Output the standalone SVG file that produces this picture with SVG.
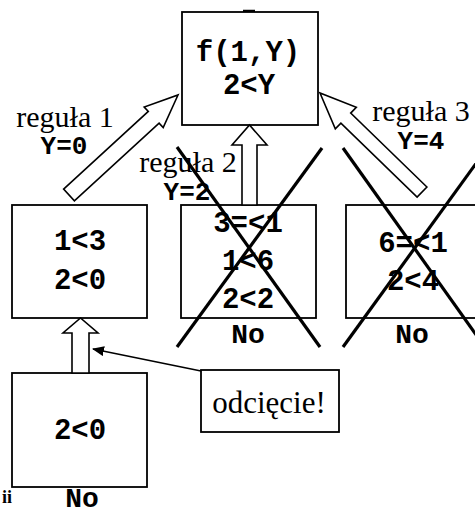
<svg xmlns="http://www.w3.org/2000/svg" width="475" height="514" viewBox="0 0 475 514">
<defs>
<style>
.box{fill:#fff;stroke:#000;stroke-width:1.8}
.mono{font-family:"Liberation Mono","Courier New",monospace;font-weight:bold;font-size:29px;fill:#000;text-anchor:middle}
.lbl{font-family:"Liberation Mono","Courier New",monospace;font-weight:bold;font-size:28px;fill:#000;text-anchor:middle}
.ylbl{font-family:"Liberation Mono","Courier New",monospace;font-weight:bold;font-size:26px;fill:#000;text-anchor:middle}
.serif{font-family:"Liberation Serif","Times New Roman",serif;font-size:30px;fill:#000;text-anchor:middle}
.blk{fill:#fff;stroke:#000;stroke-width:1.6;stroke-linejoin:miter}
.cross{stroke:#000;stroke-width:3.2;fill:none}
</style>
<marker id="ah" markerWidth="12" markerHeight="10" refX="11" refY="5" orient="auto" markerUnits="userSpaceOnUse">
<path d="M0,0 L12,5 L0,10 Z" fill="#000"/>
</marker>
</defs>
<rect width="475" height="514" fill="#fff"/>

<g id="root">
<line x1="243" y1="11" x2="255" y2="11" stroke="#000" stroke-width="2.5"/>
<rect class="box" x="182" y="12" width="136" height="113"/>
<text class="mono" x="248" y="61">f(1,Y)</text>
<text class="mono" x="249" y="94">2&lt;Y</text>
</g>

<g id="node-left">
<rect class="box" x="12" y="205" width="135" height="113"/>
<text class="mono" x="80" y="250">1&lt;3</text>
<text class="mono" x="80" y="289">2&lt;0</text>
</g>

<g id="node-middle">
<rect class="box" x="181" y="205" width="135" height="113"/>
<text class="mono" x="248" y="232">3=&lt;1</text>
<text class="mono" x="248" y="270">1&lt;6</text>
<text class="mono" x="248" y="308">2&lt;2</text>
<text class="lbl" x="248" y="343">No</text>
</g>

<g id="node-right">
<rect class="box" x="346" y="205" width="135" height="113"/>
<text class="mono" x="413" y="252">6=&lt;1</text>
<text class="mono" x="413" y="290">2&lt;4</text>
<text class="lbl" x="412" y="343">No</text>
</g>

<g id="node-bottom">
<rect class="box" x="12" y="373" width="135" height="114"/>
<text class="mono" x="80" y="439">2&lt;0</text>
<text class="lbl" x="82" y="507">No</text>
</g>

<g id="note">
<rect class="box" x="201" y="370" width="138" height="62"/>
<text class="serif" x="269" y="413" style="font-size:31px">odcięcie!</text>
</g>

<g id="connectors">
<polygon class="blk" points="63.6,189.1 148.3,111.4 144.2,107 178,95 163.2,127.6 159.1,123.2 74.4,200.9"/>
<polygon class="blk" points="242,205 242,145 232,145 249.5,125 267,145 257,145 257,205"/>
<polygon class="blk" points="426.9,187 350.7,113.1 356.3,107.3 320,93 335.3,128.9 340.9,123.1 417.1,197"/>
<polygon class="blk" points="72,373 72,333 63,333 80.5,318 98,333 89,333 89,373"/>
<line x1="201" y1="371" x2="93" y2="349" stroke="#000" stroke-width="1.6" marker-end="url(#ah)"/>
</g>

<g id="labels">
<text class="serif" x="65" y="127">reguła 1</text>
<text class="ylbl" x="64" y="154">Y=0</text>
<text class="serif" x="188" y="172">reguła 2</text>
<text class="ylbl" x="187" y="200">Y=2</text>
<text class="serif" x="421" y="121">reguła 3</text>
<text class="ylbl" x="421" y="149">Y=4</text>
<text x="2" y="503" style="font-family:'Liberation Serif',serif;font-size:18px;font-weight:bold">ii</text>
</g>

<g id="crosses">
<line class="cross" x1="177" y1="147" x2="320" y2="347"/>
<line class="cross" x1="322" y1="148" x2="177" y2="347"/>
<line class="cross" x1="343" y1="148" x2="482" y2="343"/>
<line class="cross" x1="480" y1="158" x2="343" y2="347"/>
</g>
</svg>
